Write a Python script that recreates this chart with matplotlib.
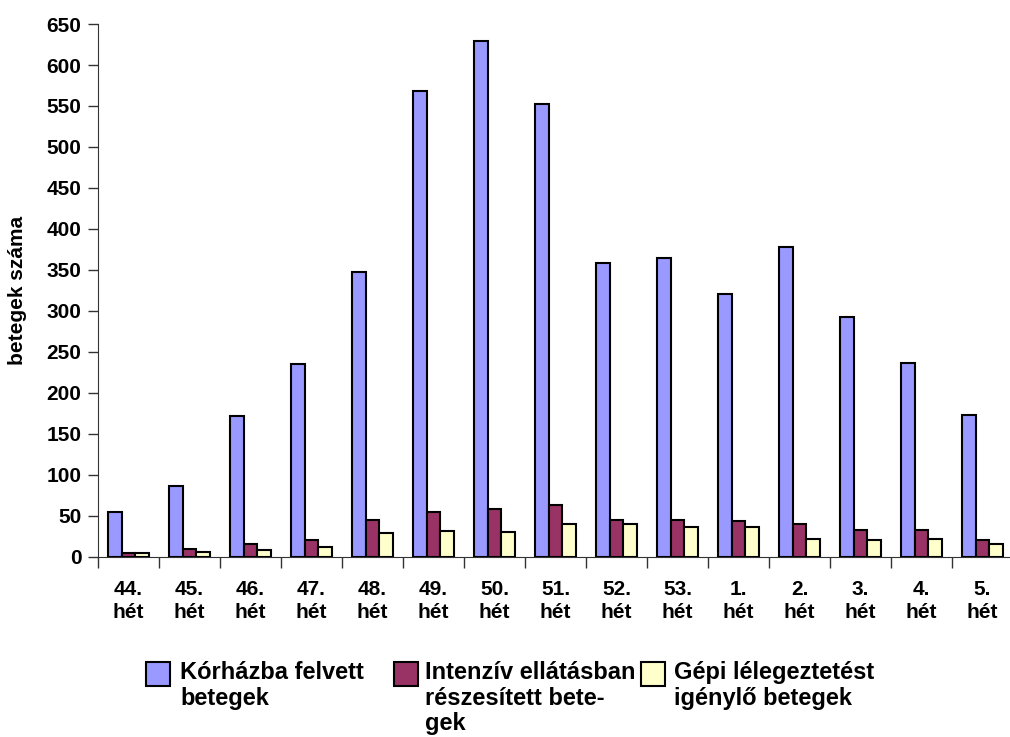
import numpy as np
import matplotlib
matplotlib.use("Agg")
import matplotlib.pyplot as plt
from matplotlib.patches import Rectangle

plt.rcParams['font.family'] = ['Liberation Sans', 'DejaVu Sans']
plt.rcParams['font.weight'] = 'bold'

weeks = ["44.", "45.", "46.", "47.", "48.", "49.", "50.", "51.", "52.", "53.",
         "1.", "2.", "3.", "4.", "5."]
korhaz = [54, 86, 172, 235, 347, 568, 629, 553, 359, 364, 320, 378, 292, 236, 173]
intenziv = [5, 9, 15, 20, 45, 54, 58, 63, 45, 45, 43, 40, 33, 33, 20]
gepi = [5, 6, 8, 12, 29, 31, 30, 40, 40, 36, 36, 22, 20, 22, 16]

series = [
    (korhaz, "#9999FF", "Kórházba felvett\nbetegek"),
    (intenziv, "#993366", "Intenzív ellátásban\nrészesített bete-\ngek"),
    (gepi, "#FFFFCC", "Gépi lélegeztetést\nigénylő betegek"),
]

W, H = 1010, 737
fig = plt.figure(figsize=(W / 100, H / 100), dpi=100)
ax = fig.add_axes([98 / W, 0.2446, 915 / W, 0.7228])

x = np.arange(len(weeks))
w = 0.225
for i, (vals, col, lab) in enumerate(series):
    ax.bar(x + (i - 1) * w, vals, width=w, color=col,
           edgecolor="black", linewidth=1.5, zorder=3)

ax.set_xlim(-0.5, len(weeks) - 0.5)
ax.set_ylim(0, 650)
ax.set_yticks(range(0, 651, 50))
ax.set_xticks(x)
ax.set_xticklabels([f"{wk}\nhét" for wk in weeks], fontsize=15,
                   fontweight="bold", linespacing=1.25)
ax.set_xticks(np.arange(-0.5, len(weeks), 1), minor=True)
ax.tick_params(axis="x", which="major", length=0, pad=17)
ax.tick_params(axis="x", which="minor", length=8, width=1, color="#333333")
ax.tick_params(axis="y", length=7, width=1, color="#333333", labelsize=15, pad=5)
for lab in ax.get_yticklabels():
    lab.set_fontweight("bold")

for s in ["top", "right"]:
    ax.spines[s].set_visible(False)
ax.spines["left"].set_color("#333333")
ax.spines["bottom"].set_color("#333333")

ax.set_ylabel("betegek száma", fontsize=15, fontweight="bold",
              ha="center", va="center")
ax.yaxis.set_label_coords(-0.0885, 0.5)

# legend below the plot, handles aligned with the first text line
box_x = [146, 394, 641]
text_x = [180, 425, 674]
for (vals, col, lab), bx, tx in zip(series, box_x, text_x):
    fig.patches.append(Rectangle((bx / W, (H - 686) / H), 24 / W, 24 / H,
                                 facecolor=col, edgecolor="black", linewidth=1.5,
                                 transform=fig.transFigure, figure=fig))
    fig.text(tx / W, (H - 661) / H, lab, fontsize=17, fontweight="bold",
             ha="left", va="top", linespacing=1.15)

fig.savefig("out.png", dpi=100)
